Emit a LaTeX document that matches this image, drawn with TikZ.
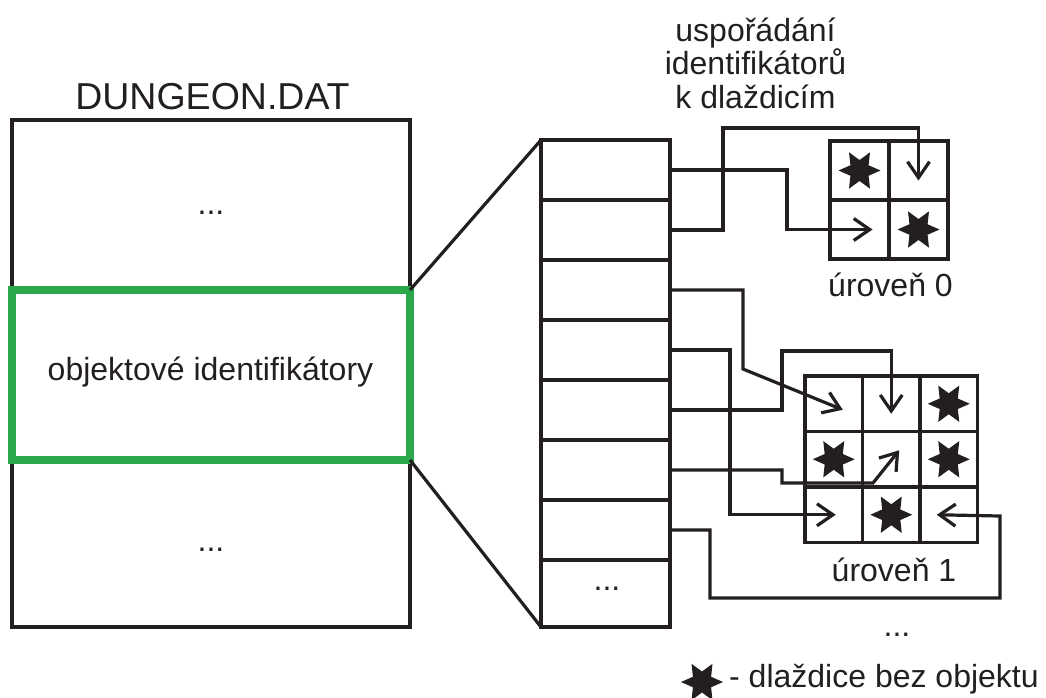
\documentclass[tikz,border=0pt]{standalone}
\usepackage{fontspec}
\setmainfont{Liberation Sans}
\usetikzlibrary{positioning}
\usetikzlibrary{calc}
\usetikzlibrary{shapes.geometric}
\usetikzlibrary{arrows.meta}
\definecolor{ink}{RGB}{35,31,32}
\definecolor{selgreen}{RGB}{43,168,74}

\tikzset{
  txt/.style={font=\fontsize{32pt}{33.5pt}\selectfont, text=ink, inner sep=0pt},
  box/.style={draw=ink, line width=3.2pt, inner sep=0pt, outer sep=0pt},
  row/.style={box, minimum width=129pt, minimum height=60pt},
  cellA/.style={box, minimum width=59pt, minimum height=59pt},
  cellB/.style={box, minimum width=57.5pt, minimum height=55.5pt},
  starmark/.style={star, star points=6, star point ratio=2.0, shape border rotate=30,
    fill=ink, draw=none, minimum size=42pt, inner sep=0pt},
  arr/.style={draw=ink, line width=3.2pt, -{Straight Barb[length=16pt,width=22pt]}}
}

\begin{document}
\begin{tikzpicture}[x=1pt, y=-1pt]
            \useasboundingbox (0,0) rectangle (1046,697);

            % DUNGEON.DAT file
            \node[box, minimum width=398pt, minimum height=507pt] (dat) at (211,373.5) {};
            \node[txt, font=\fontsize{37.5pt}{40pt}\selectfont, anchor=base] (title) at (212.5,109) {DUNGEON.DAT};
            \node[txt, anchor=base] (dotsup) at (211,214) {...};
            \node[txt, anchor=base] (dotsdown) at (211,551) {...};

            % highlighted section
            \node[draw=selgreen, line width=8pt, minimum width=398pt, minimum height=170pt,
                  inner sep=0pt, outer sep=0pt] (sec) at (211,375) {};
            \node[txt, anchor=base] (seclabel) at (210.5,380) {objektové identifikátory};

            % table of identifiers
            \foreach \i in {1,...,7} {
                \node[row] (r\i) at (605.5,{110+60*\i}) {};
            }
            \node[row, minimum height=67pt] (r8) at (605.5,593.5) {};
            \node[txt, anchor=base] (rdots) at (607,590) {...};

            % zoom lines
            \draw[ink, line width=3.2pt] (sec.north east) -- (r1.north west);
            \draw[ink, line width=3.2pt] (sec.south east) -- (r8.south west);

            % level 0 tiles
            \foreach \i in {0,1} {
                \foreach \j in {0,1} {
                    \node[cellA] (u0c\i\j) at ({859.5+59*\j},{170.5+59*\i}) {};
                }
            }
            \node[txt, anchor=base] (lvl0) at (890.5,296) {úroveň 0};

            % level 1 tiles
            \foreach \i in {0,1,2} {
                \foreach \j in {0,1,2} {
                    \node[cellB] (u1c\i\j) at ({833.75+57.5*\j},{403.75+55.5*\i}) {};
                }
            }
            \node[txt, anchor=base] (lvl1) at (894,581) {úroveň 1};
            \node[txt, anchor=base] (lvldots) at (897,636) {...};

            % empty tiles
            \node[starmark] (s1) at (u0c00) {};
            \node[starmark] (s2) at (u0c11) {};
            \node[starmark] (s3) at (u1c02) {};
            \node[starmark] (s4) at (u1c10) {};
            \node[starmark] (s5) at (u1c12) {};
            \node[starmark] (s6) at (u1c21) {};

            % identifiers -> tiles
            \draw[arr] (r1.east) -- ++(117,0) |- ($(u0c10)+(13,0)$);
            \draw[arr] (r2.east) -- ++(53,0) -- ++(0,-102) -| ($(u0c01)+(0,10)$);
            \draw[arr] (r3.east) -| ++(73,79) -- ($(u1c00)+(9,6)$);
            \draw[arr] (r4.east) -- ++(60,0) |- ($(u1c20)+(2,0)$);
            \draw[arr] (r5.east) -- ++(112,0) -- ++(0,-59) -| ($(u1c01)+(0,10)$);
            \draw[arr] (r6.east) -- ++(112,0) -- ++(0,13) -- ++(91,0) -- ($(u1c11)+(8,-9)$);
            \draw[arr] (r7.east) -- ++(40,0) -- ++(0,68) -| ++(290,-82) -- ($(u1c22)+(-12,0)$);

            % caption
            \node[txt, align=center] (order) at (755.5,63) {uspořádání\\identifikátorů\\k dlaždicím};

            % legend
            \node[starmark] (legstar) at (702,682) {};
            \node[txt, anchor=base west] (legtext) at (729,687) {- dlaždice bez objektu};
\end{tikzpicture}
\end{document}
